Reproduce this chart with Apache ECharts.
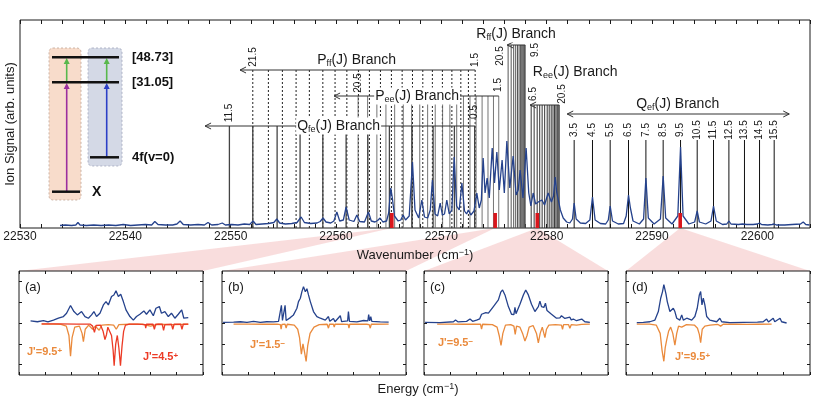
<!DOCTYPE html>
<html><head><meta charset="utf-8">
<script src="https://cdn.jsdelivr.net/npm/echarts@6.0.0/dist/echarts.min.js"></script>
<style>html,body{margin:0;padding:0;background:#fff}#c{width:830px;height:409px}</style>
</head><body><div id="c"></div>
<script>
const FONT = '"Liberation Sans", Arial, Helvetica, sans-serif';

// ---------- main spectrum (wavenumber, signal) ----------
const spectrum = [
[22533.8,2.5],[22534.3,3],[22534.9,2.5],[22535.3,3],[22535.5,5.5],[22535.7,3],[22536.3,2.5],[22537.0,3],[22537.7,2.5],[22538.4,3],
[22539.1,2.5],[22539.8,3.5],[22540.5,2.5],[22541.2,3],[22541.9,3.5],[22542.5,3],[22542.8,6.5],[22543.1,3.5],[22543.8,3],[22544.5,3],
[22544.9,4],[22545.2,7],[22545.5,3.5],[22546.2,3],[22546.9,3.5],[22547.5,3],[22547.85,5.5],[22548.2,3],[22548.8,3.5],[22549.2,5],
[22549.5,3],[22550.1,3.5],[22550.7,3],[22551.3,4],[22551.8,3.5],[22552.13,7],[22552.4,3.5],[22553.0,4],[22553.6,4.5],[22554.1,5.5],
[22554.38,9],[22554.65,5],[22555.2,4],[22555.8,4.5],[22556.3,5.5],[22556.69,11],[22557.0,5.5],[22557.6,4.5],[22558.2,5],[22558.5,6.5],
[22558.77,10],[22559.05,6],[22559.5,5],[22559.8,7],[22560.08,16],[22560.35,7],[22560.7,8],[22560.96,21],[22561.25,8],[22561.7,6.5],
[22561.98,13],[22562.25,6.5],[22562.7,6],[22562.85,8],[22563.08,16],[22563.35,7],[22563.7,6],[22563.95,7.5],[22564.19,10],[22564.45,6],
[22564.8,7],[22565.0,15],[22565.2,40],[22565.35,30],[22565.55,12],[22565.9,7],[22566.15,8],[22566.37,13],[22566.6,8],[22566.95,12],
[22567.26,66],[22567.5,18],[22567.85,10],[22568.15,28],[22568.4,11],[22568.7,10],[22568.95,18],[22569.15,48],[22569.4,14],[22569.65,12],
[22569.89,25],[22570.1,13],[22570.3,14],[22570.52,28],[22570.75,14],[22571.0,18],[22571.22,71],[22571.45,22],[22571.7,18],[22571.95,45],
[22572.2,17],[22572.4,14],[22572.57,18],[22572.8,13],[22573.1,17],[22573.37,35],[22573.6,20],[22573.8,28],[22573.97,70],[22574.15,35],
[22574.35,50],[22574.55,30],[22574.83,80],[22575.05,45],[22575.27,76],[22575.5,38],[22575.77,68],[22575.98,35],[22576.22,87],[22576.5,40],
[22576.82,72],[22577.1,33],[22577.3,38],[22577.48,58],[22577.75,30],[22578.05,80],[22578.3,35],[22578.5,22],[22578.72,35],[22578.95,24],
[22579.2,26],[22579.54,28],[22579.8,23],[22580.14,35],[22580.45,26],[22580.65,32],[22580.81,51],[22580.95,36],[22581.09,38],[22581.3,18],
[22581.57,10],[22581.9,6],[22582.2,5],[22582.45,9],[22582.61,25],[22582.8,9],[22583.2,5],[22583.7,4.5],[22584.1,8],[22584.35,31],
[22584.6,8],[22585.1,4.5],[22585.6,4],[22585.85,8],[22586.03,22],[22586.25,7],[22586.8,4],[22587.3,4.5],[22587.55,12],[22587.77,33],
[22587.95,20],[22588.2,7],[22588.8,4],[22589.2,9],[22589.42,50],[22589.65,10],[22590.2,4],[22590.8,9],[22591.06,52],[22591.3,10],
[22591.9,4],[22592.45,12],[22592.71,81],[22592.95,12],[22593.5,4],[22594.05,6],[22594.29,17],[22594.5,6],[22595.1,4],[22595.6,7],
[22595.84,22],[22596.1,7],[22596.7,3.5],[22597.1,4],[22597.3,7],[22597.5,4],[22598.2,3.5],[22598.6,4],[22598.78,6],[22599.0,3.5],
[22599.6,3.5],[22600.0,4],[22600.21,5],[22600.4,3.5],[22601.0,3],[22601.4,3.5],[22601.6,4],[22601.8,3],[22602.6,3],[22603.3,3.5],
[22604.1,4],[22604.36,6],[22604.6,3.5],[22604.95,3]
];
const markerWn = [22565.30, 22575.11, 22579.11, 22592.68];
const markerHeight = 15;

// ---------- branch line positions ----------
const qfeLines = [22549.88,22552.10,22554.41,22556.59,22558.75,22560.96,22563.02,22565.07,22567.22,22569.22,22571.24,22573.16];
const pffLines = [22552.10,22553.58,22554.91,22556.21,22557.47,22558.75,22559.91,22561.03,22562.13,22563.17,22564.22,22565.26,22566.28,22567.26,22568.24,22569.15,22570.10,22571.00,22571.85,22572.57,22573.21];
const peeLines = [22562.10,22563.00,22563.88,22564.74,22565.57,22566.39,22567.18,22567.95,22568.70,22569.42,22570.12,22570.81,22571.46,22572.10,22572.72,22573.30,22573.87,22574.43,22574.95,22575.45];
const rffLines = [22576.34,22576.63,22576.87,22577.06,22577.23,22577.38,22577.51,22577.63,22577.73,22577.82,22577.90,22577.96];
const reeLines = [22578.53,22578.81,22579.10,22579.34,22579.57,22579.81,22580.05,22580.24,22580.43,22580.60,22580.75,22580.88,22581.00,22581.09,22581.19];
const qefLines = [22582.61,22584.35,22586.03,22587.77,22589.42,22591.06,22592.71,22594.29,22595.84,22597.30,22598.78,22600.21,22601.60];
const qefLabels = ['3.5','4.5','5.5','6.5','7.5','8.5','9.5','10.5','11.5','12.5','13.5','14.5','15.5'];
const qfeLevel = 102, pffLevel = 158, peeLevel = 132, rffLevel = 183, reeLevel = 123, qefTop = 88;
const qefLabelY = 98;

// [arrow tip, end, level, double-headed]
const branchArrows = [
 [22547.57,22573.21,102,0],[22550.89,22573.21,158,0],[22559.82,22575.45,132,0],
 [22576.25,22577.96,183,0],[22578.43,22581.19,123,0],[22581.95,22603.03,114,1]
];
const branchTitles = ['Q{s|fe}(J) Branch','P{s|ff}(J) Branch','P{s|ee}(J) Branch','R{s|ff}(J) Branch','R{s|ee}(J) Branch','Q{s|ef}(J) Branch'];
const branchTitlePos = [[22560.25,102],[22561.96,168],[22567.70,132],[22577.10,194],[22582.71,156],[22592.44,124]];

const jLabelText = ['21.5','1.5','20.5','1.5','11.5','0.5','20.5','9.5','6.5','20.5'];
const jLabelPos = [[22552.10,171],[22573.21,168],[22562.10,145],[22575.45,143],[22549.88,115],[22573.16,116],[22575.58,172],[22578.91,178],[22578.72,134],[22581.47,134]];

const xTickMajor = [22530,22540,22550,22560,22570,22580,22590,22600];

// ---------- insets (energy offset, signal) ----------
const insetA_blue = [[0.44,0.10],[0.7,0.06],[0.93,0.11],[1.1,0.05],[1.31,0.14],[1.50,0.23],[1.69,0.31],[1.81,0.47],[1.96,0.84],[2.09,0.55],[2.22,0.39],[2.38,0.55],[2.51,0.31],[2.64,0.23],[2.76,0.39],[2.85,0.55],[2.95,0.31],[3.08,0.47],[3.21,0.87],[3.31,1.03],[3.40,0.87],[3.52,1.27],[3.61,1.35],[3.69,1.55],[3.78,1.27],[3.87,1.38],[3.97,1.03],[4.07,0.63],[4.22,0.31],[4.35,0.14],[4.47,0.31],[4.60,0.42],[4.75,0.58],[4.85,0.42],[4.98,0.63],[5.11,0.35],[5.21,0.71],[5.34,0.79],[5.42,0.47],[5.55,0.55],[5.68,0.31],[5.80,0.47],[5.93,0.23],[6.06,0.42],[6.19,0.63],[6.27,0.23],[6.44,0.26]];
const insetA_orange = [[0.86,-0.05],[1.3,-0.05],[1.6,-0.07],[1.8,-0.15],[1.9,-0.6],[1.96,-1.6],[2.02,-0.7],[2.12,-0.2],[2.3,-0.15],[2.4,-0.5],[2.45,-0.9],[2.52,-0.3],[2.65,-0.1],[2.8,-0.3],[2.9,-0.15],[3.05,-0.35],[3.15,-0.1],[3.4,-0.08],[3.6,-0.1],[3.7,-0.3],[3.8,-0.08],[4.2,-0.06],[4.7,-0.06],[5.0,-0.15],[5.3,-0.06],[5.8,-0.08],[6.44,-0.06]];
const insetA_red = [[0.86,-0.04],[1.5,-0.04],[2.2,-0.05],[2.7,-0.05],[2.8,-0.15],[2.87,-0.45],[2.93,-0.12],[3.1,-0.1],[3.2,-0.4],[3.27,-0.8],[3.33,-0.55],[3.38,-0.2],[3.45,-0.15],[3.52,-0.6],[3.58,-1.3],[3.62,-2.05],[3.68,-1.0],[3.74,-0.6],[3.8,-1.2],[3.86,-2.05],[3.92,-1.1],[3.98,-0.4],[4.05,-0.1],[4.2,-0.05],[4.5,-0.05],[4.8,-0.08],[4.82,-0.25],[4.85,-0.06],[5.1,-0.06],[5.15,-0.3],[5.2,-0.06],[5.45,-0.06],[5.5,-0.35],[5.55,-0.08],[5.8,-0.06],[5.85,-0.3],[5.9,-0.06],[6.15,-0.06],[6.2,-0.3],[6.25,-0.06],[6.44,-0.05]];
const insetB_blue = [[0.04,0.03],[0.44,0.04],[0.7,0.06],[0.95,0.03],[1.2,0.08],[1.46,0.03],[1.7,0.06],[1.96,0.05],[2.15,0.08],[2.22,0.14],[2.26,0.85],[2.3,0.12],[2.36,0.12],[2.4,0.85],[2.44,0.12],[2.6,0.26],[2.72,0.39],[2.85,0.71],[2.91,1.03],[2.98,1.19],[3.04,1.51],[3.10,1.75],[3.17,1.5],[3.23,1.65],[3.29,1.35],[3.36,1.03],[3.48,0.55],[3.61,0.31],[3.74,0.23],[3.93,0.14],[4.0,0.1],[4.05,0.31],[4.1,0.08],[4.24,0.22],[4.3,0.06],[4.37,0.14],[4.5,0.35],[4.55,0.07],[4.62,0.12],[4.78,0.1],[4.81,0.55],[4.85,0.08],[5.13,0.05],[5.39,0.12],[5.55,0.1],[5.58,0.4],[5.62,0.1],[5.66,0.3],[5.7,0.08],[6.02,0.05],[6.34,0.04]];
const insetB_orange = [[0.44,-0.05],[1.0,-0.05],[1.6,-0.06],[2.1,-0.05],[2.22,-0.08],[2.25,-0.3],[2.28,-0.07],[2.4,-0.06],[2.44,-0.25],[2.48,-0.06],[2.75,-0.1],[2.88,-0.3],[2.95,-0.7],[3.02,-1.5],[3.08,-1.0],[3.14,-1.4],[3.2,-1.85],[3.26,-1.1],[3.35,-0.5],[3.5,-0.2],[3.7,-0.08],[4.0,-0.06],[4.05,-0.25],[4.09,-0.06],[4.24,-0.06],[4.27,-0.2],[4.3,-0.06],[4.6,-0.06],[4.8,-0.07],[4.83,-0.25],[4.86,-0.06],[5.5,-0.06],[5.6,-0.08],[5.64,-0.25],[5.68,-0.06],[6.34,-0.05]];
const insetC_blue = [[0.04,0.03],[0.61,0.02],[1.12,0.06],[1.2,0.14],[1.3,0.05],[1.62,0.08],[1.75,0.19],[1.85,0.08],[2.0,0.14],[2.12,0.2],[2.19,0.42],[2.26,0.35],[2.35,0.5],[2.45,0.47],[2.51,0.55],[2.64,0.79],[2.83,1.11],[2.92,1.48],[2.99,1.59],[3.08,1.35],[3.21,0.79],[3.33,0.42],[3.42,0.4],[3.46,0.75],[3.5,0.45],[3.65,0.9],[3.78,1.35],[3.87,1.59],[3.97,1.35],[4.09,0.9],[4.22,0.55],[4.35,0.79],[4.41,1.05],[4.47,0.79],[4.56,0.75],[4.62,0.95],[4.68,0.6],[4.73,0.63],[4.85,0.42],[5.04,0.23],[5.17,0.25],[5.23,0.35],[5.3,0.4],[5.36,0.22],[5.42,0.3],[5.55,0.28],[5.6,0.15],[5.68,0.19],[5.8,0.11],[6.0,0.19],[6.12,0.06],[6.31,0.03]];
const insetC_orange = [[0.5,-0.05],[1.0,-0.05],[1.5,-0.06],[2.0,-0.06],[2.15,-0.06],[2.19,-0.3],[2.23,-0.06],[2.6,-0.08],[2.78,-0.2],[2.86,-0.6],[2.93,-1.08],[3.0,-0.5],[3.1,-0.1],[3.3,-0.08],[3.42,-0.15],[3.47,-0.55],[3.52,-0.15],[3.65,-0.2],[3.75,-0.5],[3.84,-0.87],[3.92,-0.6],[4.0,-0.2],[4.15,-0.12],[4.28,-0.5],[4.35,-0.95],[4.42,-0.5],[4.5,-0.2],[4.55,-0.45],[4.6,-0.7],[4.66,-0.3],[4.75,-0.1],[5.0,-0.08],[5.23,-0.1],[5.27,-0.3],[5.31,-0.08],[5.5,-0.08],[5.55,-0.25],[5.6,-0.08],[5.8,-0.1],[6.0,-0.07],[6.31,-0.05]];
const insetD_blue = [[0.41,0.02],[0.66,0.03],[0.91,0.06],[1.10,0.14],[1.23,0.55],[1.32,1.19],[1.39,1.51],[1.44,1.84],[1.52,1.4],[1.57,1.03],[1.67,0.55],[1.74,0.63],[1.80,0.71],[1.86,0.55],[1.93,0.23],[2.05,0.14],[2.12,0.39],[2.18,0.14],[2.31,0.23],[2.50,0.14],[2.62,0.31],[2.71,0.71],[2.79,1.35],[2.84,1.51],[2.89,0.87],[2.94,1.19],[3.00,0.87],[3.07,0.31],[3.19,0.14],[3.45,0.06],[3.52,0.12],[3.57,0.23],[3.64,0.06],[3.95,0.02],[4.46,0.03],[5.0,0.04],[5.22,0.06],[5.35,0.19],[5.42,0.05],[5.48,0.06],[5.6,0.23],[5.66,0.06],[5.73,0.06],[5.86,0.23],[5.92,0.06],[5.98,0.06],[6.11,0.0]];
const insetD_orange = [[0.41,-0.05],[0.9,-0.05],[1.15,-0.1],[1.3,-0.5],[1.37,-1.3],[1.44,-1.84],[1.49,-1.2],[1.55,-0.8],[1.62,-0.4],[1.7,-0.2],[1.78,-0.5],[1.86,-1.06],[1.93,-0.5],[2.0,-0.15],[2.12,-0.2],[2.3,-0.08],[2.6,-0.1],[2.72,-0.25],[2.79,-0.55],[2.84,-0.95],[2.9,-0.3],[3.0,-0.15],[3.2,-0.1],[3.5,-0.07],[3.6,-0.15],[3.7,-0.06],[4.2,-0.06],[4.6,-0.07],[5.0,-0.06],[5.54,-0.05]];
const insetTicksY = [-2,-1,0,1,2];

// ---------- colours ----------
const BLUE = '#25428c', ORANGE = '#ea8a3c', RED = '#ec3a25', MARK = '#d9161c';

const chart = echarts.init(document.getElementById('c'));

function vlines(arr, top, style, z) {
  return {
    type: 'custom', xAxisIndex: 0, yAxisIndex: 0, z: z || 2, silent: true, clip: false,
    data: arr.map(w => [w, top, 0]),
    renderItem(params, api) {
      const a = api.coord([api.value(0), api.value(1)]);
      const b = api.coord([api.value(0), api.value(2)]);
      return {type: 'line', shape: {x1: a[0], y1: a[1], x2: b[0], y2: b[1]}, style: Object.assign({}, style)};
    }
  };
}

const insetLeft = [19, 222, 424, 626];
const grids = [{left: 20, top: 20, width: 790, height: 208, show: true, borderColor: '#1a1a1a', borderWidth: 1,
  backgroundColor: 'transparent', containLabel: false, outerBoundsMode: 'none'}];
insetLeft.forEach(l => grids.push({left: l, top: 271, width: 184, height: 104, show: true, borderColor: '#1a1a1a',
  borderWidth: 1, containLabel: false, outerBoundsMode: 'none'}));

const xAxes = [
  {type: 'value', gridIndex: 0, min: 22530, max: 22605, interval: 2, position: 'bottom',
   axisLine: {show: false, onZero: false}, splitLine: {show: false},
   axisTick: {show: true, inside: true, length: 4, lineStyle: {color: '#1a1a1a'}},
   axisLabel: {show: true, margin: 3, color: '#1a1a1a', fontSize: 12, fontFamily: FONT,
     formatter: v => (xTickMajor.indexOf(v) >= 0 ? String(v) : '')},
   name: 'Wavenumber (cm{sup|\u22121})', nameLocation: 'middle', nameGap: 17,
   nameTextStyle: {fontSize: 13, fontFamily: FONT, color: '#1a1a1a', lineHeight: 16,
     rich: {sup: {fontSize: 9, fontFamily: FONT, verticalAlign: 'top', lineHeight: 9, color: '#1a1a1a'}}}},
  {type: 'value', gridIndex: 0, min: 22530, max: 22605, interval: 2, position: 'top',
   axisLine: {show: false, onZero: false}, splitLine: {show: false}, axisLabel: {show: false},
   axisTick: {show: true, inside: true, length: 4, lineStyle: {color: '#1a1a1a'}}}
];
const yAxes = [
  {type: 'value', gridIndex: 0, min: 0, max: 208, axisLine: {show: false, onZero: false}, axisTick: {show: false},
   axisLabel: {show: false}, splitLine: {show: false},
   name: 'Ion Signal (arb. units)', nameLocation: 'middle', nameGap: 3, nameRotate: 90,
   nameTextStyle: {fontSize: 13, fontFamily: FONT, color: '#1a1a1a'}}
];
for (let i = 0; i < 4; i++) {
  ['bottom', 'top'].forEach(p => xAxes.push({type: 'value', gridIndex: i + 1, min: 0, max: 7, interval: 1, position: p,
    axisLine: {show: false, onZero: false}, splitLine: {show: false}, axisLabel: {show: false},
    axisTick: {show: true, inside: true, length: 3, lineStyle: {color: '#1a1a1a'}}}));
  ['left', 'right'].forEach(p => yAxes.push({type: 'value', gridIndex: i + 1, min: -2.5, max: 2.5, position: p,
    axisLine: {show: false, onZero: false}, splitLine: {show: false}, axisLabel: {show: false},
    axisTick: {show: true, inside: true, length: 3, customValues: insetTicksY, lineStyle: {color: '#1a1a1a'}}}));
}

const series = [];
// branch stick lines
series.push(vlines(pffLines, pffLevel, {stroke: '#222', lineWidth: 1, lineDash: [2, 2]}, 1));
series.push(vlines(peeLines, peeLevel, {stroke: '#666', lineWidth: 0.9}, 1));
series.push(vlines(qfeLines, qfeLevel, {stroke: '#444', lineWidth: 1.3}, 1));
series.push(vlines(rffLines, rffLevel, {stroke: '#555', lineWidth: 1}, 1));
series.push(vlines(reeLines, reeLevel, {stroke: '#333', lineWidth: 1}, 1));
series.push(vlines(qefLines, qefTop, {stroke: '#111', lineWidth: 1}, 1));

// horizontal branch arrows
series.push({
  type: 'custom', xAxisIndex: 0, yAxisIndex: 0, z: 2, silent: true, clip: false, data: branchArrows,
  renderItem(params, api) {
    const a = api.coord([api.value(0), api.value(2)]);
    const b = api.coord([api.value(1), api.value(2)]);
    const st = {stroke: '#333', lineWidth: 1, fill: 'none'};
    const ch = [
      {type: 'line', shape: {x1: a[0], y1: a[1], x2: b[0], y2: b[1]}, style: st},
      {type: 'polyline', shape: {points: [[a[0] + 6, a[1] - 3], [a[0], a[1]], [a[0] + 6, a[1] + 3]]}, style: st}
    ];
    if (api.value(3)) ch.push({type: 'polyline', shape: {points: [[b[0] - 6, b[1] - 3], [b[0], b[1]], [b[0] - 6, b[1] + 3]]}, style: st});
    return {type: 'group', children: ch};
  }
});

// spectrum
series.push({type: 'line', xAxisIndex: 0, yAxisIndex: 0, z: 3, data: spectrum, showSymbol: false, symbol: 'none',
  lineStyle: {color: BLUE, width: 1.3}, silent: true});

// red markers
series.push({
  type: 'custom', xAxisIndex: 0, yAxisIndex: 0, z: 5, silent: true, clip: false,
  data: markerWn.map(w => [w, 0, markerHeight]),
  renderItem(params, api) {
    const a = api.coord([api.value(0), api.value(2)]);
    const b = api.coord([api.value(0), api.value(1)]);
    return {type: 'rect', shape: {x: a[0] - 1.8, y: a[1], width: 3.6, height: b[1] - a[1]}, style: {fill: MARK}};
  }
});

// branch titles
series.push({
  type: 'custom', xAxisIndex: 0, yAxisIndex: 0, z: 4, silent: true, clip: false, data: branchTitlePos,
  renderItem(params, api) {
    const p = api.coord([api.value(0), api.value(1)]);
    return {type: 'text', x: p[0], y: p[1], style: {
      text: branchTitles[params.dataIndex], font: '14px ' + FONT, fill: '#1a1a1a', lineHeight: 17,
      align: 'center', verticalAlign: 'middle', backgroundColor: '#fff', padding: [0, 1],
      rich: {s: {fontSize: 9, fontFamily: FONT, verticalAlign: 'bottom', lineHeight: 9, fill: '#1a1a1a'}}}};
  }
});

// rotated J labels
const allJPos = jLabelPos.concat(qefLines.map(w => [w, qefLabelY]));
const allJText = jLabelText.concat(qefLabels);
series.push({
  type: 'custom', xAxisIndex: 0, yAxisIndex: 0, z: 4, silent: true, clip: false, data: allJPos,
  renderItem(params, api) {
    const p = api.coord([api.value(0), api.value(1)]);
    return {type: 'text', x: p[0], y: p[1], rotation: Math.PI / 2, style: {
      text: allJText[params.dataIndex], font: '10px ' + FONT, fill: '#1a1a1a', align: 'center', verticalAlign: 'middle'}};
  }
});

// insets
const insetSets = [
  [[insetA_orange, ORANGE], [insetA_red, RED], [insetA_blue, BLUE]],
  [[insetB_orange, ORANGE], [insetB_blue, BLUE]],
  [[insetC_orange, ORANGE], [insetC_blue, BLUE]],
  [[insetD_orange, ORANGE], [insetD_blue, BLUE]]
];
const insetBlueIndex = [];
insetSets.forEach((set, i) => {
  set.forEach(([d, c]) => {
    if (c === BLUE) insetBlueIndex.push(series.length);
    series.push({type: 'line', xAxisIndex: 2 + 2 * i, yAxisIndex: 1 + 2 * i, data: d, showSymbol: false, symbol: 'none',
      lineStyle: {color: c, width: 1.3}, silent: true, z: 3});
  });
});
const spectrumIndex = 7;

chart.setOption({animation: false, backgroundColor: '#fff', grid: grids, xAxis: xAxes, yAxis: yAxes, series: series});

// ---------- graphics: connectors, level diagram, labels ----------
const els = [];
markerWn.forEach((w, i) => {
  const apex = chart.convertToPixel({seriesIndex: spectrumIndex}, [w, 0]);
  const L = chart.convertToPixel({seriesIndex: insetBlueIndex[i]}, [0, 2.5]);
  const R = chart.convertToPixel({seriesIndex: insetBlueIndex[i]}, [7, 2.5]);
  els.push({type: 'polygon', z: -5, silent: true, shape: {points: [apex, L, R]}, style: {fill: 'rgba(236,150,150,0.32)'}});
});
// level diagram
els.push({type: 'rect', shape: {x: 49, y: 48, width: 32, height: 152, r: 4}, style: {fill: '#f8dccb', stroke: '#bfa595', lineWidth: 0.8, lineDash: [2, 2]}});
els.push({type: 'rect', shape: {x: 88, y: 48, width: 34, height: 118, r: 4}, style: {fill: '#d4d9e6', stroke: '#a2a7bc', lineWidth: 0.8, lineDash: [2, 2]}});
function seg(x1, y1, x2, y2, c, w) { els.push({type: 'line', shape: {x1, y1, x2, y2}, style: {stroke: c, lineWidth: w}}); }
function arrowUp(x, y1, y2, c) {
  seg(x, y1, x, y2 + 5, c, 1.6);
  els.push({type: 'polygon', shape: {points: [[x - 3, y2 + 6], [x + 3, y2 + 6], [x, y2]]}, style: {fill: c}});
}
arrowUp(66.7, 191, 83, '#9b2f9e');
arrowUp(66.7, 82, 58, '#58b84c');
arrowUp(106.7, 157, 83, '#2b3fc6');
arrowUp(106.7, 82, 58, '#58b84c');
seg(52, 57.3, 119, 57.3, '#111', 2.5);
seg(52, 82.3, 119, 82.3, '#111', 2.5);
seg(90, 157.3, 119, 157.3, '#111', 2.5);
seg(52, 191.7, 80, 191.7, '#111', 2.5);
function txt(x, y, t, font, fill, align, rich) {
  els.push({type: 'text', x, y, style: {text: t, font, fill, align: align || 'left', verticalAlign: 'middle', rich: rich || {}}});
}
txt(132, 57, '[48.73]', 'bold 13px ' + FONT, '#111');
txt(132, 82, '[31.05]', 'bold 13px ' + FONT, '#111');
txt(132, 157, '4f(v=0)', 'bold 13px ' + FONT, '#111');
txt(92, 192, 'X', 'bold 14px ' + FONT, '#111');
// inset labels
['(a)', '(b)', '(c)', '(d)'].forEach((t, i) => txt(insetLeft[i] + 6, 287, t, '13px ' + FONT, '#1a1a1a'));
const supR = c => ({p: {fontSize: 8, fontFamily: FONT, fontWeight: 'bold', verticalAlign: 'top', lineHeight: 8, fill: c}});
txt(27, 352, "J'=9.5{p|+}", 'bold 11px ' + FONT, ORANGE, 'left', supR(ORANGE));
txt(143, 357, "J'=4.5{p|+}", 'bold 11px ' + FONT, RED, 'left', supR(RED));
txt(250, 345, "J'=1.5{p|\u2212}", 'bold 11px ' + FONT, ORANGE, 'left', supR(ORANGE));
txt(438, 343, "J'=9.5{p|\u2212}", 'bold 11px ' + FONT, ORANGE, 'left', supR(ORANGE));
txt(675, 357, "J'=9.5{p|+}", 'bold 11px ' + FONT, ORANGE, 'left', supR(ORANGE));
txt(418, 389, 'Energy (cm{p|\u22121})', '13px ' + FONT, '#1a1a1a', 'center',
  {p: {fontSize: 9, fontFamily: FONT, verticalAlign: 'top', lineHeight: 9, fill: '#1a1a1a'}});
chart.setOption({graphic: {elements: els}});
</script></body></html>
